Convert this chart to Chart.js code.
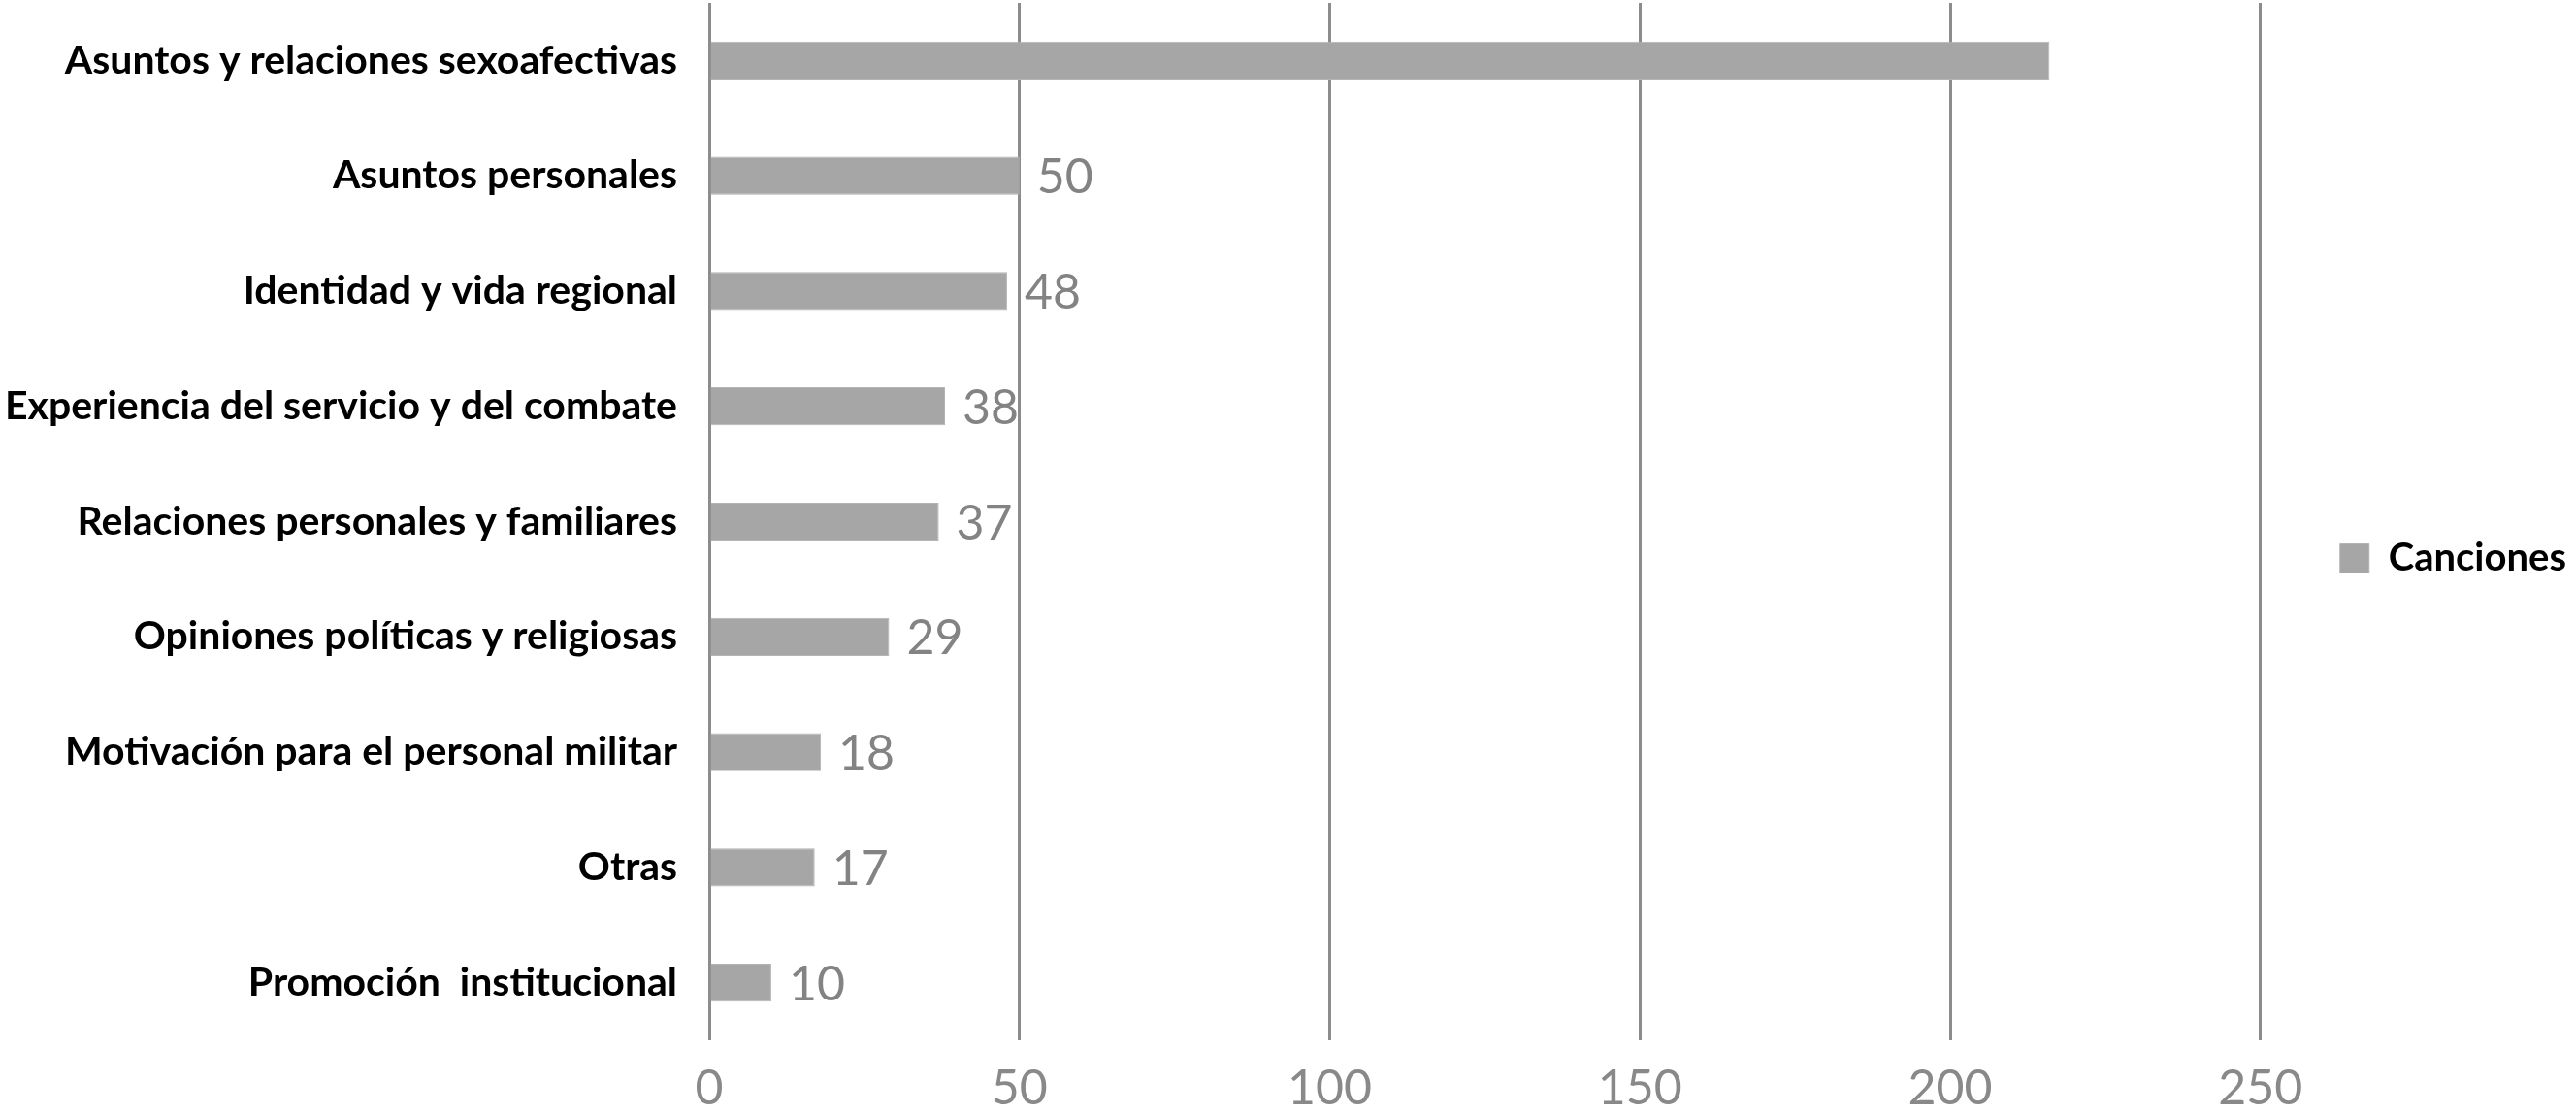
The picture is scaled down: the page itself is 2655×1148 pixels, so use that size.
<!DOCTYPE html>
<html>
<head>
<meta charset="utf-8">
<script src="https://cdn.jsdelivr.net/npm/chart.js@4.4.1/dist/chart.umd.min.js"></script>
<style>
    html, body { margin: 0; padding: 0; background: #fff; }
    #wrap { width: 2655px; height: 1148px; }
</style>
</head>
<body>
<div id="wrap"><canvas id="temasChart" width="2655" height="1148"></canvas></div>
<script>
const categories = [
    'Asuntos y relaciones sexoafectivas',
    'Asuntos personales',
    'Identidad y vida regional',
    'Experiencia del servicio y del combate',
    'Relaciones personales y familiares',
    'Opiniones políticas y religiosas',
    'Motivación para el personal militar',
    'Otras',
    'Promoción  institucional'
];
const canciones = [216, 50, 48, 38, 37, 29, 18, 17, 10];
const xTicks = [0, 50, 100, 150, 200, 250];
const seriesName = 'Canciones';

// value labels at the end of each bar (the source leaves the longest bar without one)
const valueLabels = {
    id: 'valueLabels',
    afterDatasetsDraw(chart) {
        const ctx = chart.ctx;
        const meta = chart.getDatasetMeta(0);
        ctx.save();
        ctx.font = '50px Lato';
        ctx.fillStyle = '#838383';
        ctx.textAlign = 'left';
        ctx.textBaseline = 'middle';
        meta.data.forEach((bar, i) => {
            if (i === 0) return;
            ctx.fillText(String(canciones[i]), bar.x + 18, bar.y + 2);
        });
        ctx.restore();
    }
};

const ctx = document.getElementById('temasChart').getContext('2d');
new Chart(ctx, {
    type: 'bar',
    data: {
        labels: categories,
        datasets: [{
            label: seriesName,
            data: canciones,
            backgroundColor: '#a6a6a6',
            borderColor: '#b4b4b4',
            borderWidth: 1,
            barPercentage: 0.33,
            categoryPercentage: 1
        }]
    },
    options: {
        indexAxis: 'y',
        responsive: false,
        devicePixelRatio: 1,
        animation: false,
        layout: { padding: { top: 3, bottom: 0, right: 0, left: 0 } },
        scales: {
            x: {
                min: 0,
                max: 250,
                afterBuildTicks(scale) {
                    scale.ticks = xTicks.map(v => ({ value: v }));
                },
                afterFit(scale) { scale.height = 76; },
                grid: { color: '#8c8c8c', lineWidth: 3, drawTicks: false },
                border: { display: false },
                ticks: {
                    padding: 20,
                    color: '#898989',
                    font: { family: 'Lato', size: 50 }
                }
            },
            y: {
                afterFit(scale) {
                    scale.width = 731;
                    // don't let the label padding push the plot down
                    scale.paddingTop = 0;
                    scale.paddingBottom = 0;
                },
                grid: { display: false, drawTicks: false },
                border: { display: false },
                ticks: {
                    padding: 33,
                    color: '#000',
                    font: { family: 'Lato', size: 41, weight: 'bold' }
                }
            }
        },
        plugins: {
            legend: {
                position: 'right',
                labels: {
                    boxWidth: 30,
                    boxHeight: 30,
                    padding: 82,
                    color: '#000',
                    font: { family: 'Lato', size: 40, weight: 'bold' }
                }
            },
            tooltip: { enabled: false }
        }
    },
    plugins: [valueLabels]
});
</script>
</body>
</html>
